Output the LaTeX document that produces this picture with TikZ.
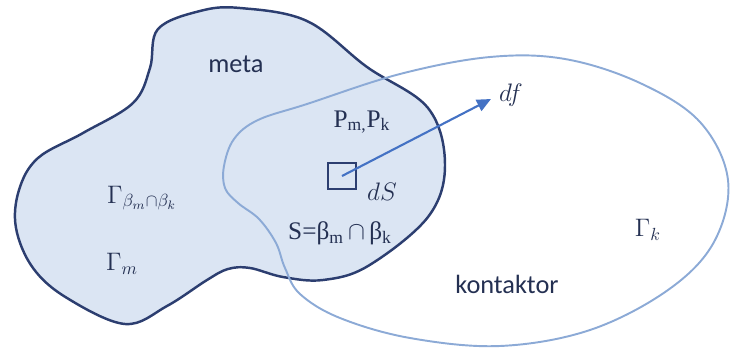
\documentclass[tikz,border=0pt]{standalone}
\usepackage{fontspec}
\setmainfont{Carlito}
\newfontfamily\grkfont{Liberation Serif}
\usetikzlibrary{arrows.meta}
\definecolor{metacol} {RGB}{44,62,112}
\definecolor{metafill}{RGB}{219,229,243}
\definecolor{kontcol} {RGB}{140,170,214}
\definecolor{forcecol}{RGB}{68,114,196}
\definecolor{labelcol}{RGB}{36,48,82}
\begin{document}
\begin{tikzpicture}[x=0.02cm,y=-0.02cm,
  body/.style ={draw=metacol,fill=metafill,line width=1.4pt},
  kbody/.style={draw=kontcol,line width=1.1pt},
  lbl/.style  ={font=\fontsize{15}{18}\selectfont,text=labelcol},
  mlbl/.style ={font=\fontsize{14.4}{17}\selectfont,text=labelcol},
  dsbox/.style={rectangle,draw=metacol,line width=1.2pt,
                minimum width=0.57cm,minimum height=0.53cm,inner sep=0pt},
  force/.style={draw=forcecol,line width=1.2pt,-{Triangle[length=8pt,width=7pt]}}
]
\useasboundingbox (0,0) rectangle (731,349);

% meta
\path[body] plot[smooth cycle,tension=0.6] coordinates {
  (240,8) (307,21) (367,67) (428,108) (445,165) (428,217) (368,266)
  (323,280) (283,277) (250,268) (228,269) (207,280) (167,306) (125,324)
  (67,298) (33,268) (16,228) (19,190) (38,158) (83,133) (133,103) (150,68)
  (158,29) (200,11)};

% kontaktor
\draw[kbody] plot[smooth cycle,tension=0.6] coordinates {
  (224,166) (234,139) (258,120) (307,104) (400,74) (490,57) (565,59)
  (640,83) (700,122) (728,180) (714,242) (668,290) (590,330) (500,346)
  (410,338) (340,318) (300,294) (285,268) (276,243) (259,219) (238,203)
  (225,188)};

\node[lbl]  (meta)  at (236,64)  {meta};
\node[lbl]  (kont)  at (507,284) {kontaktor};
\node[mlbl] (gbeta) at (142,198) {$\Gamma_{\beta_m\cap\beta_k}$};
\node[mlbl] (gm)    at (122,264) {$\Gamma_m$};
\node[mlbl] (gk)    at (648,230) {$\Gamma_k$};
\node[mlbl] (pmk)   at (362,122) {\grkfont P\textsubscript{m,}P\textsubscript{k}};
\node[mlbl] (sint)  at (340,233)
  {\grkfont S=β\textsubscript{m}\,$\cap$\,β\textsubscript{k}};
\node[mlbl] (dsl)   at (382,192) {$dS$};
\node[mlbl] (df)    at (511,95)  {$df$};

\node[dsbox] (ds) at (342,176) {};
\coordinate (tip) at (491,99);
\draw[force] (ds.center) -- (tip);
\end{tikzpicture}
\end{document}
